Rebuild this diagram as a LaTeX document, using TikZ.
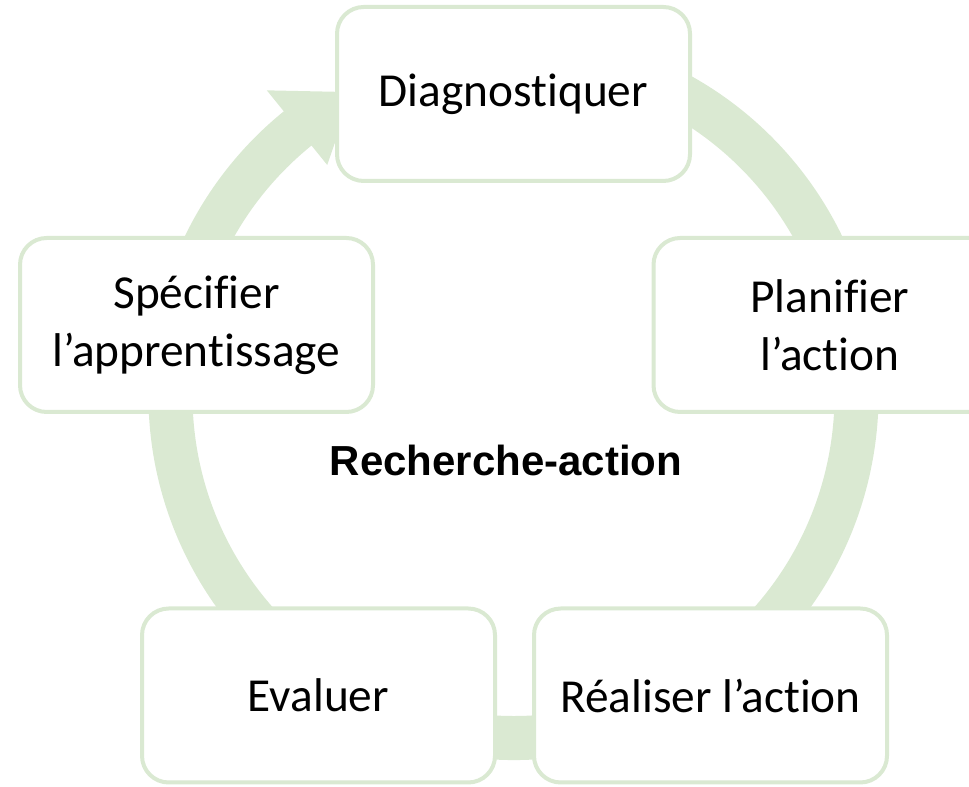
\documentclass[tikz,border=0pt]{standalone}
\usepackage{fontspec}
\setmainfont{Carlito}[Ligatures=NoCommon]
\newfontfamily\titlefont{Liberation Sans}
\definecolor{ringgreen}{RGB}{218,233,210}
\tikzset{phase/.style={draw=ringgreen,line width=3pt,fill=white,rounded corners=20pt,
    minimum width=264.75pt,minimum height=130.5pt,align=center,
    font=\fontsize{35.5}{43.5}\selectfont}}
\begin{document}
\begin{tikzpicture}[x=0.75pt,y=0.75pt]
    \clip (0,0) rectangle (969,787);
    %% cycle ring with its arrow head
    \fill[ringgreen,shift={(513.5,392)}] (80:273.75pt) arc[start angle=80,end angle=-231,radius=273.75pt]
        -- (129:294pt) -- (118:257.25pt) -- (129:222pt) -- (129:240.75pt)
        arc[start angle=129,end angle=440,radius=240.75pt] -- cycle;
    %% phases
    \node[phase] (diag) at (513.5,693) {Diagnostiquer};
    \node[phase] (plan) at (830,462) {Planifier\\l’action};
    \node[phase] (real) at (710.5,91.5) {Réaliser l’action};
    \node[phase] (eval) at (318.5,91.5) {Evaluer};
    \node[phase] (spec) at (196.5,462) {Spécifier\\l’apprentissage};
    %% title
    \node[font=\titlefont\bfseries\fontsize{31.5}{38}\selectfont] (title) at (506,327) {Recherche-action};
\end{tikzpicture}
\end{document}
